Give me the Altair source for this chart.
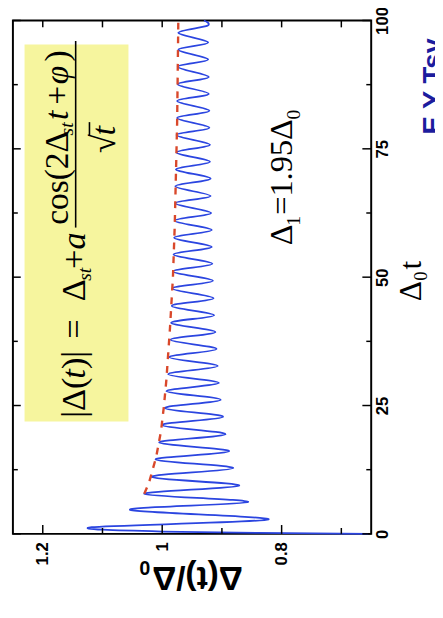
import altair as alt
import pandas as pd

# ---- blue curve: start of the rise, then alternating maxima / minima
start_t = [0.0, 0.45]
start_v = [0.655, 1.0]
peak_t = [1.3, 4.7, 7.8, 11.1, 14.5, 17.8, 21.2, 24.5, 27.8, 31.1, 34.4, 37.8, 41.1, 44.4, 47.8,
          51.1, 54.4, 57.7, 61.0, 64.4, 67.7, 71.0, 74.3, 77.7, 81.0, 84.3, 87.6, 91.0, 94.3, 97.6]
peak_v = [1.118, 1.054, 1.030, 1.018, 1.011, 1.005, 1.000, 0.996, 0.993, 0.990, 0.988, 0.986, 0.985, 0.984, 0.983,
          0.982, 0.981, 0.980, 0.979, 0.978, 0.978, 0.977, 0.976, 0.976, 0.975, 0.975, 0.974, 0.974, 0.973, 0.973]
trough_t = [2.8, 6.2, 9.4, 12.8, 16.1, 19.4, 22.8, 26.1, 29.4, 32.7, 36.0, 39.3, 42.6, 45.9, 49.3,
            52.6, 55.9, 59.2, 62.5, 65.8, 69.2, 72.5, 75.8, 79.1, 82.4, 85.7, 89.0, 92.4, 95.7, 99.0]
trough_v = [0.822, 0.856, 0.871, 0.881, 0.888, 0.894, 0.898, 0.902, 0.905, 0.907, 0.909, 0.911, 0.913, 0.914, 0.915,
            0.916, 0.917, 0.917, 0.918, 0.919, 0.919, 0.920, 0.920, 0.921, 0.921, 0.922, 0.922, 0.923, 0.923, 0.924]
end_t = [100.0]
end_v = [0.93]

# ---- red dashed envelope
dash_t = [7.8, 10, 12.5, 15, 20, 25, 30, 40, 50, 60, 70, 80, 90, 100]
dash_v = [1.030, 1.022, 1.016, 1.010, 1.002, 0.997, 0.993, 0.987, 0.982, 0.979, 0.977, 0.975, 0.974, 0.973]

# ---- ticks
x_major = [0.8, 1.0, 1.2]
x_minor = [0.7, 0.9, 1.1]
y_major = [0, 25, 50, 75, 100]
y_minor = [12.5, 37.5, 62.5, 87.5]

# ---- yellow formula box, fraction bar and radical overbar
box_v = [1.2305, 1.0565]
box_t = [21.9, 95.3]
bar_v = [1.1449, 1.1218]
bar_t1 = [59.66, 77.6]
bar_t2 = [96.0, 80.2]

# ---- text pieces (serif, upright)
serif_text = ["|Δ(", ")|", "=", "Δ", "+", "cos(2Δ", "+", ")", "√",
              "Δ", "1", "=1.95Δ", "0", "Δ", "0", "t"]
serif_v = [1.1300, 1.1300, 1.1300, 1.1300, 1.1300, 1.1580, 1.1580, 1.1580, 1.079,
           0.7827, 0.7695, 0.7827, 0.7695, 0.5671, 0.5572, 0.5671]
serif_t = [22.6, 32.1, 38.0, 45.3, 51.6, 60.2, 83.6, 92.0, 74.2,
           56.21, 60.04, 62.14, 80.69, 45.3, 49.3, 51.5]
serif_size = [35, 35, 35, 35, 35, 34, 34, 34, 35,
              33, 20, 33, 20, 32, 19, 32]
# serif italic pieces
ital_text = ["t", "st", "a", "st", "t", "φ", "t"]
ital_v = [1.1300, 1.1190, 1.1300, 1.1490, 1.1580, 1.1580, 1.079]
ital_t = [30.2, 49.3, 55.4, 77.6, 80.6, 87.6, 77.6]
ital_size = [35, 20, 35, 20, 34, 34, 35]
# bottom axis title (upside down, bold sans)
ytitle_text = ["Δ(t)/Δ", "0"]
ytitle_v = [0.865, 1.0198]
ytitle_t = [-6.50, -5.35]
ytitle_size = [34, 20]
# author credit (cut off at the page edge)
credit_text = ["E Y Tsy"]
credit_v = [0.531]
credit_t = [77.8]

# ---------------- build tables
curve_t = start_t + [val for pair in zip(peak_t, trough_t) for val in pair] + end_t
curve_v = start_v + [val for pair in zip(peak_v, trough_v) for val in pair] + end_v
curve = pd.DataFrame({"t": curve_t, "v": curve_v})
dash = pd.DataFrame({"t": dash_t, "v": dash_v})

xs = alt.Scale(domain=[0.65, 1.25], reverse=True, nice=False, zero=False)
ys = alt.Scale(domain=[0, 100], nice=False, zero=False)

xaxis = alt.Axis(values=x_major, format="~g", labelAngle=270, labelAlign="right",
                 labelBaseline="middle", labelFont="Liberation Sans", labelFontWeight="bold",
                 labelFontSize=17, labelColor="black", labelPadding=8, ticks=False,
                 domain=False, grid=False, title=None, labelFlush=False)
yaxis = alt.Axis(values=y_major, orient="right", labelAngle=270, labelAlign="center",
                 labelBaseline="top", labelFont="Liberation Sans", labelFontWeight="bold",
                 labelFontSize=17, labelColor="black", labelPadding=4, ticks=False,
                 domain=False, grid=False, title=None, labelFlush=False)

X = lambda f: alt.X(f, scale=xs, axis=xaxis)
Y = lambda f: alt.Y(f, scale=ys, axis=yaxis)

box = alt.Chart(pd.DataFrame({"v1": [box_v[0]], "v2": [box_v[1]], "t1": [box_t[0]], "t2": [box_t[1]]})).mark_rect(
    color="#f6f59e").encode(x=X("v1:Q"), x2="v2:Q", y=Y("t1:Q"), y2="t2:Q")

bar = alt.Chart(pd.DataFrame({"v": bar_v, "t1": bar_t1, "t2": bar_t2})).mark_rule(
    color="black", strokeWidth=1.6).encode(x=X("v:Q"), y=Y("t1:Q"), y2="t2:Q")

line = alt.Chart(curve).mark_line(color="#2b45e0", strokeWidth=1.8, interpolate="cardinal").encode(
    x=X("v:Q"), y=Y("t:Q"), order="t:Q")

dashed = alt.Chart(dash).mark_line(color="#d9482b", strokeWidth=2.4, strokeDash=[7, 7]).encode(
    x=X("v:Q"), y=Y("t:Q"), order="t:Q")

def xticks(vals, y0, y1):
    return alt.Chart(pd.DataFrame({"v": vals})).mark_rule(color="black", strokeWidth=1.5).encode(
        x=X("v:Q"), y=alt.value(y0), y2=alt.value(y1))

def yticks(vals, x0, x1):
    return alt.Chart(pd.DataFrame({"t": vals})).mark_rule(color="black", strokeWidth=1.5).encode(
        y=Y("t:Q"), x=alt.value(x0), x2=alt.value(x1))

W, H = 365, 523
ticks = [
    xticks(x_major, H, H - 9), xticks(x_minor, H, H - 6),
    xticks(x_major, 0, 7), xticks(x_minor, 0, 7),
    yticks(y_major, W, W - 9), yticks(y_minor, W, W - 5),
    yticks(y_major, 0, 8), yticks(y_minor, 0, 5),
]

def text_layer(texts, vs, ts, sizes, angle, font, style="normal", weight="normal", color="black"):
    df = pd.DataFrame({"txt": texts, "v": vs, "t": ts, "size": sizes, "ang": [angle] * len(texts)})
    return alt.Chart(df).mark_text(font=font, fontStyle=style, fontWeight=weight, color=color,
                                   align="left", baseline="alphabetic").encode(
        x=X("v:Q"), y=Y("t:Q"), text="txt:N",
        size=alt.Size("size:Q", scale=None), angle=alt.Angle("ang:Q", scale=None))

texts = [
    text_layer(serif_text, serif_v, serif_t, serif_size, 270, "Liberation Serif"),
    text_layer(ital_text, ital_v, ital_t, ital_size, 270, "Liberation Serif", style="italic"),
    text_layer(ytitle_text, ytitle_v, ytitle_t, ytitle_size, 180, "Liberation Sans", weight="bold"),
    text_layer(credit_text, credit_v, credit_t, [28], 270, "Liberation Sans", weight="bold", color="#1c1c9e"),
]

chart = alt.layer(box, bar, line, dashed, *ticks, *texts).properties(
    width=W, height=H,
    padding={"left": 5, "top": 7, "right": 65, "bottom": 80},
    autosize=alt.AutoSizeParams(type="none"),
    background="white",
).configure_view(stroke="black", strokeWidth=2)

chart.save("out.html", embed_options={"renderer": "svg", "actions": False})
